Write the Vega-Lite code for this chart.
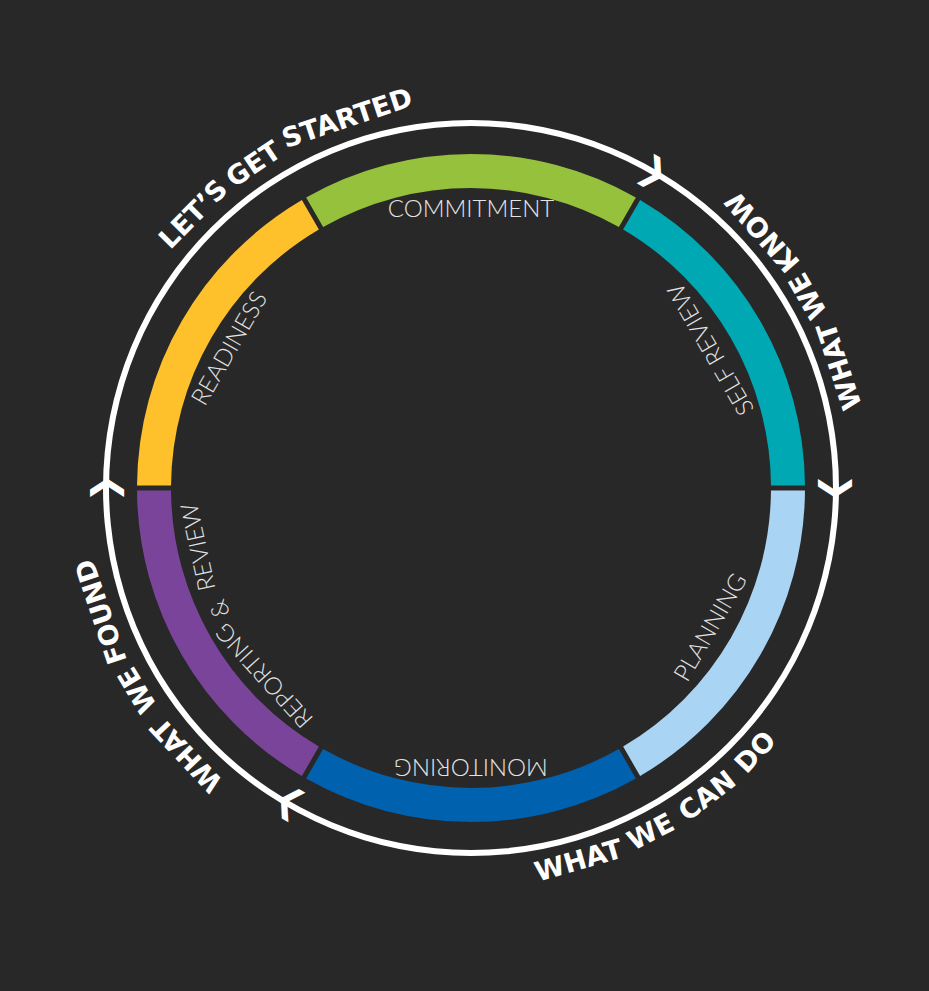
{
  "$schema": "https://vega.github.io/schema/vega-lite/v6.json",
  "autosize": {"type": "none"},
  "width": 942,
  "height": 976,
  "padding": {"left": 0, "top": 0, "right": -13, "bottom": 15},
  "background": "#282828",
  "config": {"view": {"stroke": null}},
  "datasets": {
    "ring": [{"start": 0, "end": 360}],
    "segments": [
      {"phase": "Commitment", "start": -30, "end": 30},
      {"phase": "Self Review", "start": 30, "end": 90},
      {"phase": "Planning", "start": 90, "end": 150},
      {"phase": "Monitoring", "start": 150, "end": 210},
      {"phase": "Reporting & Review", "start": 210, "end": 270},
      {"phase": "Readiness", "start": 270, "end": 330}
    ],
    "innerOut": [
      {"label": "COMMITMENT", "pos": 0},
      {"label": "MONITORING", "pos": 180},
      {"label": "REPORTING", "pos": 227.8},
      {"label": "&", "pos": 244.3},
      {"label": "REVIEW", "pos": 257.8},
      {"label": "READINESS", "pos": 300}
    ],
    "innerIn": [
      {"label": "SELF REVIEW", "pos": 60},
      {"label": "PLANNING", "pos": 120.2}
    ],
    "outerOut": [
      {"label": "LET’S", "pos": 314.6},
      {"label": "GET", "pos": 326.1},
      {"label": "STARTED", "pos": 341.5},
      {"label": "WHAT", "pos": 226.8},
      {"label": "WE", "pos": 238.8},
      {"label": "FOUND", "pos": 251.5}
    ],
    "outerIn": [
      {"label": "KNOW", "pos": 48.7},
      {"label": "WE", "pos": 60.3},
      {"label": "WHAT", "pos": 71.7},
      {"label": "DO", "pos": 132.9},
      {"label": "CAN", "pos": 142.5},
      {"label": "WE", "pos": 152.4},
      {"label": "WHAT", "pos": 163.9}
    ],
    "arrows": [
      {"pos": 30}, {"pos": 90}, {"pos": 210}, {"pos": 270}
    ]
  },
  "layer": [
    {
      "data": {"name": "ring"},
      "mark": {"type": "arc", "radius": 368, "radius2": 362, "fill": "#ffffff"},
      "encoding": {
        "theta": {"field": "start", "type": "quantitative", "stack": null, "scale": {"domain": [0, 360], "range": [0, 6.283185307179586]}},
        "theta2": {"field": "end"}
      }
    },
    {
      "data": {"name": "segments"},
      "mark": {"type": "arc", "radius": 334, "radius2": 300, "padAngle": 0.011},
      "encoding": {
        "theta": {"field": "start", "type": "quantitative", "stack": null},
        "theta2": {"field": "end"},
        "color": {
          "field": "phase", "type": "nominal", "legend": null,
          "scale": {
            "domain": ["Commitment", "Self Review", "Planning", "Monitoring", "Reporting & Review", "Readiness"],
            "range": ["#96c13d", "#00a8b4", "#a9d4f3", "#0061af", "#7a449a", "#fec02b"]
          }
        }
      }
    },
    {
      "data": {"name": "innerOut"},
      "mark": {"type": "text", "radius": 278, "font": "Lato", "fontWeight": 300, "fontSize": 24, "fill": "#e4e4e4", "align": "center", "baseline": "middle"},
      "encoding": {
        "theta": {"field": "pos", "type": "quantitative", "stack": null},
        "text": {"field": "label"},
        "angle": {"field": "pos", "type": "quantitative", "scale": {"domain": [0, 360], "range": [0, 360]}}
      }
    },
    {
      "data": {"name": "innerIn"},
      "mark": {"type": "text", "radius": 278, "font": "Lato", "fontWeight": 300, "fontSize": 24, "fill": "#e4e4e4", "align": "center", "baseline": "middle"},
      "encoding": {
        "theta": {"field": "pos", "type": "quantitative", "stack": null},
        "text": {"field": "label"},
        "angle": {"field": "pos", "type": "quantitative", "scale": {"domain": [0, 360], "range": [180, 540]}}
      }
    },
    {
      "data": {"name": "outerOut"},
      "mark": {"type": "text", "radius": 389, "font": "DejaVu Sans", "fontWeight": "bold", "fontSize": 27, "fill": "#ffffff", "align": "center", "baseline": "middle"},
      "encoding": {
        "theta": {"field": "pos", "type": "quantitative", "stack": null},
        "text": {"field": "label"},
        "angle": {"field": "pos", "type": "quantitative", "scale": {"domain": [0, 360], "range": [0, 360]}}
      }
    },
    {
      "data": {"name": "outerIn"},
      "mark": {"type": "text", "radius": 389, "font": "DejaVu Sans", "fontWeight": "bold", "fontSize": 27, "fill": "#ffffff", "align": "center", "baseline": "middle"},
      "encoding": {
        "theta": {"field": "pos", "type": "quantitative", "stack": null},
        "text": {"field": "label"},
        "angle": {"field": "pos", "type": "quantitative", "scale": {"domain": [0, 360], "range": [180, 540]}}
      }
    },
    {
      "data": {"name": "arrows"},
      "mark": {"type": "text", "radius": 365, "font": "DejaVu Sans", "fontWeight": "bold", "fontSize": 34, "fill": "#ffffff", "align": "center", "baseline": "middle", "text": "❯"},
      "encoding": {
        "theta": {"field": "pos", "type": "quantitative", "stack": null},
        "angle": {"field": "pos", "type": "quantitative", "scale": {"domain": [0, 360], "range": [0, 360]}}
      }
    }
  ],
  "resolve": {"scale": {"angle": "independent"}}
}
